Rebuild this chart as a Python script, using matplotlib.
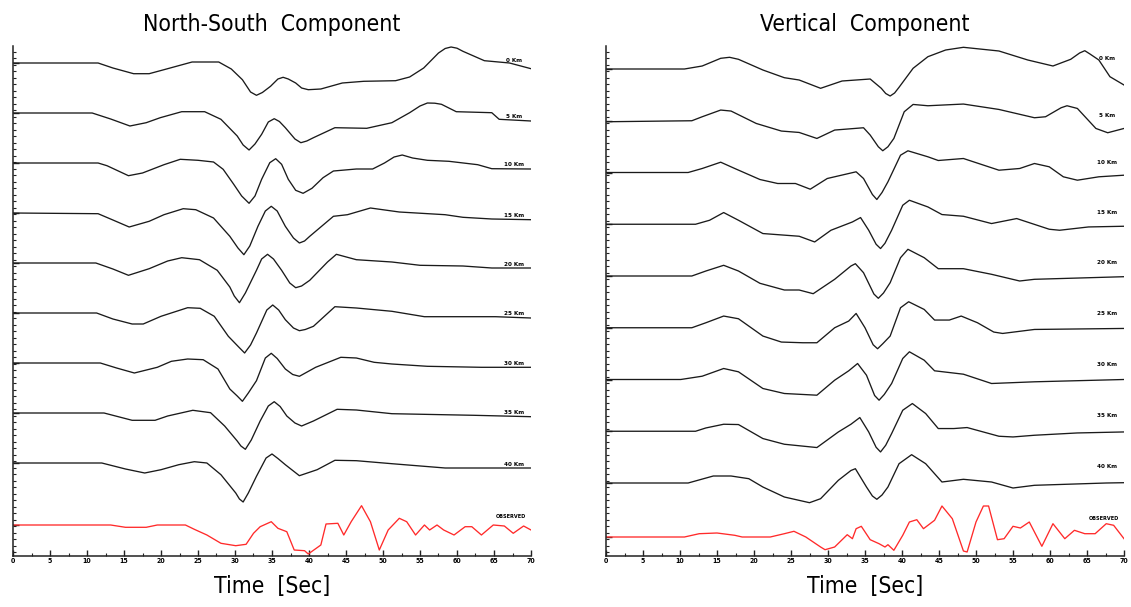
import numpy as np
import matplotlib
matplotlib.use('Agg')
import matplotlib.pyplot as plt
import matplotlib.font_manager as fm
from matplotlib.ticker import MultipleLocator, FixedLocator, NullFormatter

# Synthetic vs observed waveforms, amplitudes (pixel-ish units, up = positive).

labels = ['0 Km', '5 Km', '10 Km', '15 Km', '20 Km', '25 Km', '30 Km', '35 Km', '40 Km']
obs_label = 'OBSERVED'

# ---- North-South component ----
ns_0_t = [0, 11.5, 13.5, 16.3, 18.4, 20.4, 24.2, 27.8, 29.5, 31.0, 32.1, 32.9, 33.7, 34.8, 35.8, 36.5, 37.2, 38.2, 39.0, 39.9, 41.6, 44.5, 47.4, 51.7, 53.6, 55.5, 57.5, 58.4, 59.2, 60.0, 60.8, 63.7, 67.1, 70]
ns_0_a = [0, 0, -5, -10.7, -10.7, -6.7, 1, 1, -6, -16.7, -29, -32.3, -29.5, -23.3, -16, -14.3, -16, -20, -25, -26.7, -26, -20, -18.3, -17.7, -14, -5, 10, 14.5, 16, 14.8, 11.7, 2.3, 0, -5.7]
ns_5_t = [0, 10.7, 13.2, 15.8, 18, 19.9, 22.8, 25.9, 28.1, 30.3, 31.1, 31.9, 32.7, 33.6, 34.5, 35.3, 36.0, 36.8, 38.1, 38.9, 39.7, 40.6, 43.5, 47.8, 51.2, 53.6, 55, 56, 57, 57.9, 59.9, 64.7, 65.7, 70]
ns_5_a = [0, 0, -6, -13, -9.7, -4.7, 1.3, 1.3, -6.3, -23, -32, -37, -31, -21.3, -9, -5.7, -8.5, -14.7, -26, -29.7, -28, -24.7, -14.7, -15.3, -9.7, 0.3, 7, 10, 9.8, 8.7, 1.3, 0.3, -6.3, -8]
ns_10_t = [0, 11.5, 12.7, 15.6, 17.5, 20.4, 22.6, 25, 27.1, 28.4, 29.8, 30.9, 31.9, 32.7, 33.6, 34.7, 35.5, 36.3, 37.2, 38.2, 39.2, 40.4, 41.9, 43.3, 46.4, 48.6, 50.2, 51.5, 52.6, 54, 56, 58.9, 62.8, 64.7, 70]
ns_10_a = [0, 0, -2.7, -12.7, -10, -1.7, 3.7, 2.7, 1, -6.3, -21, -33, -40.3, -33, -16.3, 0.3, 4.3, -1.3, -16.3, -27.3, -30.3, -25.3, -14.7, -8, -6, -6, 0, 6, 8, 5, 2.7, 1.7, -1.7, -5.7, -6]
ns_15_t = [0, 11.5, 13.5, 15.7, 18.4, 20.4, 23, 24.7, 27.1, 29.3, 30.4, 31.2, 32.0, 33.1, 34.1, 34.9, 35.7, 36.8, 37.9, 38.7, 39.4, 40.1, 43.3, 45.2, 48.3, 52.2, 58.4, 60.8, 64.7, 70]
ns_15_a = [0, -0.7, -7, -14, -8.3, -1.7, 4.3, 3.3, -5, -23.3, -35, -41.7, -33, -13.3, 2, 6.7, 2, -13.3, -25, -30, -28, -23.3, -3.3, -1.7, 5, 1, -1.7, -4.3, -6, -6.7]
ns_20_t = [0, 11.2, 13.5, 15.6, 18.4, 20.9, 22.8, 25.2, 27.6, 29.3, 29.9, 30.6, 31.4, 32.9, 33.6, 34.4, 35.2, 36.3, 37.4, 38.2, 39.0, 40.1, 42.5, 43.7, 46.4, 51.2, 55, 60.8, 64.7, 70]
ns_20_a = [0, 0, -6, -12.3, -5.7, 2, 5.3, 3.3, -7.3, -24, -33, -39.7, -30, -7.3, 4, 8.7, 4, -7.3, -20, -24.7, -23, -17.3, 1, 8.7, 3.3, 1, -2.3, -3, -5, -5]
ns_25_t = [0, 11.3, 13.5, 16.1, 17.6, 20, 23.6, 25.3, 27.2, 29.1, 30.5, 31.3, 32.1, 32.9, 34.3, 35.1, 35.9, 36.8, 37.9, 38.7, 39.5, 40.6, 43.5, 46.4, 51.2, 55.6, 65.2, 70]
ns_25_a = [0, 0, -6, -11, -11, -3.3, 5.3, 4.7, -3.3, -23.3, -34, -40, -32, -20, 3, 8, 3, -6.7, -15, -17.7, -16.5, -13.3, 6.3, 5, 1.7, -3.7, -3.7, -5]
ns_30_t = [0, 11.8, 14, 16.4, 19.5, 21.4, 23.6, 25.7, 27.7, 29.3, 30.3, 31, 31.8, 32.9, 34.1, 34.9, 35.7, 36.8, 37.8, 38.7, 40.9, 44.3, 46.4, 48.8, 51.2, 56, 63.3, 70]
ns_30_a = [0, 0, -5, -10, -4.3, 1.7, 4, 3.3, -6, -26, -33, -38.3, -30, -17.7, 5, 9.7, 4.5, -6, -11.5, -13.3, -4.3, 5.7, 5, 0.7, -1, -3.3, -4.3, -4.3]
ns_35_t = [0, 12.3, 16.1, 19.2, 20.9, 24.3, 26.7, 28.6, 30.3, 30.8, 31.4, 32.2, 33.4, 34.5, 35.3, 36.1, 37, 38.1, 39, 40.6, 43.8, 46.4, 51.2, 62.3, 70]
ns_35_a = [0, 0, -7.3, -7.3, -3, 2.7, 0.3, -13, -28, -33, -36.3, -27, -8, 7, 11.3, 6.5, -3, -10, -13, -8, 3.7, 3, -0.7, -2.3, -3.7]
ns_40_t = [0, 12, 15.2, 17.8, 20, 22.4, 24.5, 26.2, 28.1, 30.1, 30.6, 31.1, 31.8, 32.9, 34.2, 35, 35.8, 36.8, 38.7, 41.1, 43.5, 46.4, 51.2, 58.4, 70]
ns_40_a = [0, 0, -6, -10, -6.7, -1.7, 1.3, 0, -11.7, -30, -36, -39, -30, -13.3, 5, 9, 4.5, -1.7, -12.7, -6.7, 2.7, 2.3, -0.7, -5, -5]
ns_obs_t = [0, 13.2, 15.2, 18, 19.5, 23.3, 24.5, 26.2, 28.1, 30.1, 31.5, 32.5, 33.4, 34.9, 35.8, 37, 38, 39.4, 39.9, 41.6, 42.3, 43.9,
            44.7, 45.7, 47.1, 48.3, 49.5, 50.7, 52.2, 53.2, 54.4, 55.6, 56.3, 57.3, 58.2, 59.6, 61.1, 62, 63.3, 64.9, 66.4, 67.6, 69, 70]
ns_obs_a = [0, 0, -2.3, -2.3, 0, 0, -4.3, -10, -18.3, -20.7, -19.3, -8.3, -1.7, 3.3, -3.3, -6.7, -25, -25.7, -29, -20, 1, 1.7,
            -10, 3.3, 19.3, 3.3, -25, -5, 6.7, 3.3, -10, 0, -5, 0, -5, -10, -1.7, -1.7, -10, 0, -1, -8.3, -1, -5]

# ---- Vertical component ----
vt_0_t = [0, 10.6, 13, 15.5, 16.7, 17.9, 21.2, 24.1, 26.1, 29, 31.9, 35.7, 37.2, 37.8, 38.4, 39.0, 39.6, 41.5, 43.5, 45.9, 48.3, 53.1, 57, 60.4, 62.8, 64, 64.7, 65.4, 66.6, 68.1, 70]
vt_0_a = [0, 0, 3, 10.7, 11.7, 9.7, -1, -8.7, -11, -19.3, -12, -10, -19.3, -24.5, -27, -24, -18.3, 0.7, 12.3, 19, 21.7, 18, 9, 3, 9.7, 16, 18.3, 15, 9, -7.7, -16]
vt_5_t = [0, 11.6, 13, 15.5, 16.9, 20.3, 23.7, 26.1, 28.5, 30.9, 34.8, 35.7, 36.8, 37.4, 38.1, 38.9, 40.3, 41.5, 43.5, 48.3, 53.1, 57.9, 59.4, 61.5, 62.3, 63.7, 66.2, 67.8, 70]
vt_5_a = [-1, 0, 4, 10.7, 9.7, -2.7, -10.3, -11.7, -17.7, -9.3, -7, -14.3, -26, -30, -26, -17.7, 9, 16.3, 15, 16.7, 11.3, 3, 4, 13, 15, 12.3, -7.7, -12, -7.7]
vt_10_t = [0, 11.1, 13, 15.5, 17.4, 20.8, 23.2, 25.6, 27.6, 29.9, 33.8, 34.8, 36.0, 36.6, 37.3, 38.1, 39.8, 40.8, 43.5, 44.9, 48.3, 53.1, 55.9, 57.9, 59.9, 61.8, 63.7, 66.6, 70]
vt_10_a = [0, 0, 4, 10.3, 4, -7, -11, -11, -16.7, -6, 0.7, -6, -22, -27, -20, -9.3, 17.3, 21.7, 15.7, 12, 14, 2.3, 4, 9, 5.7, -4.3, -7.7, -4.3, -2.7]
vt_15_t = [0, 12.1, 14, 15.9, 17.9, 21.2, 26.1, 28.2, 30.4, 33.3, 34.4, 35.5, 36.5, 37.1, 37.7, 38.6, 40.1, 41, 43.5, 45.4, 48.3, 52.1, 55.5, 59.9, 61.3, 65.2, 70]
vt_15_a = [0, 0, 4, 11.7, 4, -9.3, -12, -17.7, -6, 2.3, 6.7, -6, -20, -24.3, -19, -6, 19, 24, 17.3, 9.7, 8, 0.7, 5.7, -5, -6, -2.7, -2]
vt_20_t = [0, 11.6, 13.5, 15.9, 17.9, 20.8, 24.1, 26.1, 28, 30.9, 33.1, 33.7, 34.8, 36.2, 36.8, 37.5, 38.4, 39.8, 40.8, 43, 44.9, 48.3, 52.1, 55.9, 57.9, 70]
vt_20_a = [0, 0, 5, 10.7, 5, -7.3, -14, -14, -17.7, -3.3, 10, 12.3, 3.3, -18, -22.3, -17, -6.7, 18.3, 26.7, 18.3, 7.3, 7.3, 1.7, -5, -3.3, -0.7]
vt_25_t = [0, 11.6, 13.5, 15.9, 17.9, 21.2, 23.7, 26.6, 28.5, 30.9, 32.8, 33.8, 35, 36.1, 36.7, 37.4, 38.4, 39.8, 40.9, 43, 44.4, 46.4, 48, 50.2, 52.4, 53.6, 57.9, 70]
vt_25_a = [0, 0, 5, 11.7, 9, -8.3, -14.3, -15, -15, 0, 6.7, 14.3, 0, -17, -21, -16, -8.3, 20, 26, 18.3, 7.7, 7.7, 11.7, 5, -4.3, -5.7, -1.7, -0.7]
vt_30_t = [0, 10.1, 13, 15.9, 17.9, 21.2, 24.1, 28.5, 30.9, 32.8, 34, 35.2, 36.3, 36.9, 37.6, 38.6, 40.1, 41, 43, 44.4, 48.3, 52.1, 57.9, 70]
vt_30_a = [0, 0, 3.3, 11, 7.7, -9, -14, -15.7, -0.7, 8.7, 16, 4.3, -16, -20.7, -15, -4, 21, 27.7, 19.3, 8.7, 5.3, -4, -2.3, 0]
vt_35_t = [0, 12.1, 13.5, 15.9, 17.9, 21.2, 24.1, 28.5, 31.4, 33.1, 34.3, 35.5, 36.5, 37.1, 37.8, 38.6, 40.1, 41.4, 43.2, 44.9, 47, 48.8, 53.1, 55, 57.9, 63.7, 70]
vt_35_a = [0, 0, 3.3, 7, 6.7, -7.3, -13, -16.3, -0.7, 7, 13.7, -0.7, -16, -20.7, -14, -2.3, 21, 27.7, 17.7, 2.7, 2.7, 3.7, -5, -5.7, -4, -1.7, -0.7]
vt_40_t = [0, 11.1, 14.5, 16.9, 19.3, 21.2, 24.1, 27.5, 29, 31.4, 33.1, 33.7, 35.2, 36.0, 36.6, 37.3, 38.1, 39.6, 41.3, 43.2, 45.4, 48.3, 52.1, 55, 57.9, 67.6, 70]
vt_40_a = [0, 0, 7, 7, 4.3, -4, -14, -19.7, -15.7, 2.7, 12.5, 14.3, -4, -13, -16.3, -12, -4, 19.3, 28.3, 19.3, 1, 3.7, 1, -5, -2.3, 0, 0.3]
vt_obs_t = [0, 10.6, 12.6, 15, 17.4, 18.4, 22.2, 24.1, 25.4, 27, 29, 29.6, 30.9, 32.6, 33.3, 33.8, 34.5, 35.7, 36.9, 37.7,
            38.1, 38.9, 40.1, 41, 42, 42.9, 44.4, 45.4, 46.8, 48.3, 48.8, 50, 51, 51.7, 52.9, 53.8, 55, 56, 57.2, 58.9,
            60.4, 62, 63.3, 64.7, 66.1, 67.6, 68.6, 70]
vt_obs_a = [0, 0, 3.3, 4, 1.7, 0, 0, 3.3, 5.7, 0, -10, -12.7, -10, 2.3, -1.7, 8.3, 10.7, -2.7, -6.7, -10,
            -7.7, -13.3, 1.7, 15, 17.3, 8.3, 16.7, 31, 18.3, -14, -15, 15, 31, 31, -2.7, -1.7, 10.7, 9, 15, -9.3,
            13.3, -1.7, 6.7, 3.3, 3.3, 13.3, 11.7, -1.7]

ns_traces = [(ns_0_t, ns_0_a), (ns_5_t, ns_5_a), (ns_10_t, ns_10_a), (ns_15_t, ns_15_a), (ns_20_t, ns_20_a),
             (ns_25_t, ns_25_a), (ns_30_t, ns_30_a), (ns_35_t, ns_35_a), (ns_40_t, ns_40_a)]
vt_traces = [(vt_0_t, vt_0_a), (vt_5_t, vt_5_a), (vt_10_t, vt_10_a), (vt_15_t, vt_15_a), (vt_20_t, vt_20_a),
             (vt_25_t, vt_25_a), (vt_30_t, vt_30_a), (vt_35_t, vt_35_a), (vt_40_t, vt_40_a)]


# Look for a narrow/condensed face, the original uses a tall thin plotter font.
def _find_narrow(bold):
    for f in fm.fontManager.ttflist:
        narrow = ('Narrow' in f.name or 'Condensed' in f.name or 'ondensed' in str(f.stretch)
                  or 'Condensed' in f.fname or 'Narrow' in f.fname)
        isbold = f.weight in ('bold', 700, 600, 'semibold', 'demibold')
        if narrow and isbold == bold and f.style == 'normal':
            return fm.FontProperties(fname=f.fname)
    return None


title_fp = _find_narrow(False)
small_fp = _find_narrow(True)
if title_fp is None:
    title_fp = fm.FontProperties(family='DejaVu Sans')
    title_size = 14
else:
    title_size = 16.5
if small_fp is None:
    small_fp = fm.FontProperties(family='DejaVu Sans', weight='bold')

W, H = 1131, 607
fig = plt.figure(figsize=(W / 100, H / 100), dpi=100)
fig.patch.set_facecolor('white')


def _panel(left_px, title, traces, obs, top_off, bot_off, obs_off, lab_dy, obs_dy, lab_on_trace):
    ax = fig.add_axes([left_px / W, 51 / H, 518 / W, 510 / H])
    offs = np.linspace(top_off, bot_off, len(traces))
    for (t, a), off, lab, dy in zip(traces, offs, labels, lab_dy):
        ax.plot(t, np.array(a) + off, color='#1a1a1a', lw=0.95)
        if lab_on_trace:
            ly = off + np.interp(67.7, t, a) + dy
        else:
            ly = off + dy
        ax.text(67.7, ly, lab, fontproperties=small_fp, fontsize=4.5, ha='center', va='center')
    ax.plot(obs[0], np.array(obs[1]) + obs_off, color='#ff2a2a', lw=0.95)
    ax.text(67.3, obs_off + obs_dy, obs_label, fontproperties=small_fp, fontsize=4, ha='center', va='center')

    ax.set_xlim(0, 70)
    ax.set_ylim(0, 510)
    for s in ['top', 'right']:
        ax.spines[s].set_visible(False)
    for s in ['left', 'bottom']:
        ax.spines[s].set_linewidth(1.1)
        ax.spines[s].set_color('#222222')
    ax.xaxis.set_major_locator(MultipleLocator(5))
    ax.xaxis.set_minor_locator(MultipleLocator(2.5))
    ax.yaxis.set_major_locator(FixedLocator(list(offs) + [obs_off]))
    ax.yaxis.set_minor_locator(FixedLocator(np.arange(4, 510, 6.5)))
    ax.yaxis.set_major_formatter(NullFormatter())
    ax.tick_params(axis='both', which='major', direction='in', length=4, width=1, color='#222222')
    ax.tick_params(axis='both', which='minor', direction='in', length=2.5, width=0.8, color='#222222')
    ax.tick_params(axis='x', pad=1.5)
    for tl in ax.get_xticklabels():
        tl.set_fontproperties(small_fp)
        tl.set_fontsize(5)
    cx = (left_px + 259) / W
    fig.text(cx, 1 - 25 / H, title, fontproperties=title_fp, fontsize=title_size, ha='center', va='center')
    fig.text(cx, 1 - 587 / H, 'Time  [Sec]', fontproperties=title_fp, fontsize=title_size, ha='center', va='center')
    return ax


_panel(13, 'North-South  Component', ns_traces, (ns_obs_t, ns_obs_a),
       493, 93, 31, [4] * 9, 8, True)
_panel(606, 'Vertical  Component', vt_traces, (vt_obs_t, vt_obs_a),
       487, 73, 19, [10, 5, 10, 12, 14, 14, 15, 16, 17], 19, False)

fig.savefig('out.png', dpi=100)
